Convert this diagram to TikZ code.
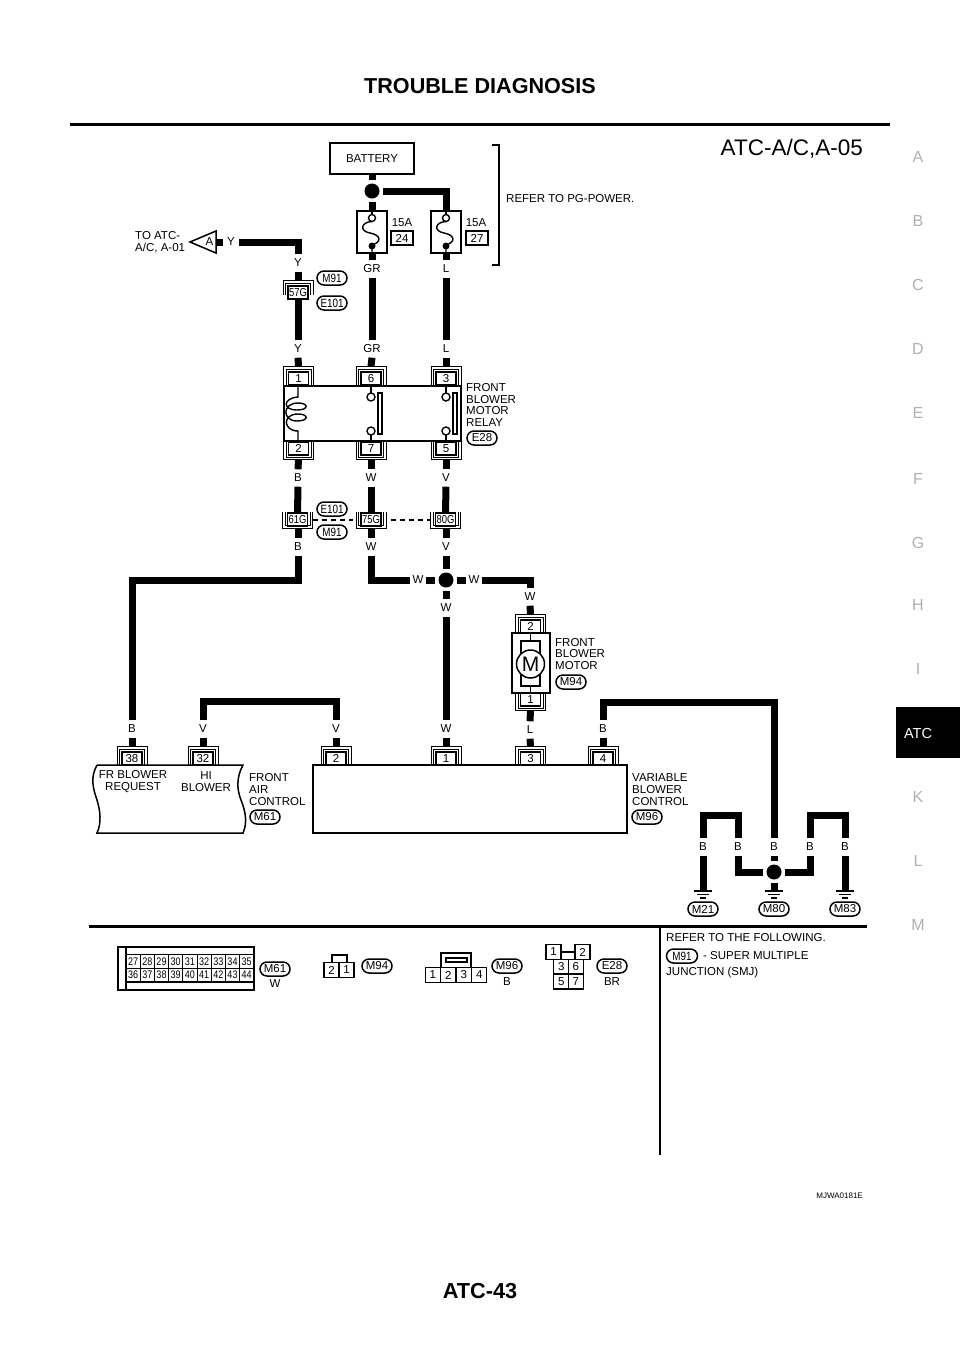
\documentclass[tikz,border=0pt]{standalone}
\usepackage{fontspec}
\setmainfont{Liberation Sans}
\newfontfamily\narrowfont[FakeStretch=0.82]{Liberation Sans}
\usepackage{xcolor}
\definecolor{Black}{RGB}{0,0,0}
\definecolor{White}{RGB}{255,255,255}
\definecolor{Grey}{RGB}{176,176,176}
\usepackage{tikz}

\tikzset{
	wire/.style={draw=Black, line width=7pt},
	thinline/.style={draw=Black, line width=1.4pt},
	dashline/.style={draw=Black, line width=2pt, dash pattern=on 5pt off 4pt},
	shell/.style={draw=Black, line width=1pt},
	txt/.style={font=\fontsize{11.5}{11.6}\selectfont, color=Black, inner sep=0pt},
	txtleft/.style={txt, anchor=west, align=left},
	lab/.style={txt, minimum width=15pt, minimum height=17pt},
	pinbox/.style={txt, draw=Black, fill=White, line width=1.1pt, minimum width=20pt, minimum height=13pt},
	smjbox/.style={pinbox, font=\narrowfont\fontsize{11.5}{11}\selectfont},
	pill/.style={txt, draw=Black, fill=White, line width=1.5pt, rounded corners=7pt, minimum width=30pt, minimum height=14pt},
	smallpill/.style={pill, font=\narrowfont\fontsize{12}{11}\selectfont},
	dot/.style={circle, fill=Black, inner sep=0pt, minimum size=15pt, outer sep=3.5pt},
	side/.style={color=Grey, font=\fontsize{16}{16}\selectfont, inner sep=0pt},
	cell/.style={txt, draw=Black, line width=1pt, minimum width=14.2pt, minimum height=13.5pt, font=\narrowfont\fontsize{11}{10}\selectfont},
	gridcell/.style={txt, draw=Black, line width=1.3pt, minimum width=15pt, minimum height=15pt}
}

% pin with the wire coming from above
\newcommand{\pintop}[4]{
	\node[pinbox] (#1) at (#2,#3) {#4};
	\draw[shell, shift={(#2,#3)}] (-15,6.5) -- (-15,-12) -- (15,-12) -- (15,6.5);
	\draw[shell, shift={(#2,#3)}] (-12.5,6.5) -- (-12.5,-9.5) -- (12.5,-9.5) -- (12.5,6.5);
	\coordinate (#1w) at ($(#2,#3)+(0,-12)$);
}
% pin with the wire leaving below
\newcommand{\pinbot}[4]{
	\node[pinbox] (#1) at (#2,#3) {#4};
	\draw[shell, shift={(#2,#3)}] (-15,-6.5) -- (-15,11) -- (15,11) -- (15,-6.5);
	\draw[shell, shift={(#2,#3)}] (-12.5,-6.5) -- (-12.5,8.5) -- (12.5,8.5) -- (12.5,-6.5);
	\coordinate (#1w) at ($(#2,#3)+(0,11)$);
}
% ground
\newcommand{\earth}[3]{
	\coordinate (#1) at (#2,#3);
	\draw[thinline, shift={(#2,#3)}] (-9,1) -- (9,1);
	\draw[thinline, shift={(#2,#3)}] (-6,4.5) -- (6,4.5);
	\draw[thinline, shift={(#2,#3)}] (-3,8) -- (3,8);
}
\usetikzlibrary{calc}

\begin{document}
\begin{tikzpicture}[x=1pt, y=-1pt]
		
		\useasboundingbox (0,0) rectangle (960,1358);
		\fill[White] (0,0) rectangle (960,1358);
		
		% Page
		\node[font=\bfseries\fontsize{21.6}{22}\selectfont, inner sep=0pt] (title) at (480,86) {TROUBLE DIAGNOSIS};
		\draw[draw=Black, line width=3pt] (70,124) -- (890,124);
		\node[font=\fontsize{22.5}{23}\selectfont, inner sep=0pt, anchor=east] (code) at (863,149) {ATC-A/C,A-05};
		\node[font=\bfseries\fontsize{21.7}{22}\selectfont, inner sep=0pt] (pageno) at (480,1291) {ATC-43};
		\node[font=\fontsize{8}{8}\selectfont, inner sep=0pt, anchor=east] (figno) at (863,1196) {MJWA0181E};
		
		% Side index
		\node[side] (sA) at (918,157) {A};
		\node[side] (sB) at (918,221) {B};
		\node[side] (sC) at (918,285) {C};
		\node[side] (sD) at (918,349) {D};
		\node[side] (sE) at (918,413) {E};
		\node[side] (sF) at (918,479) {F};
		\node[side] (sG) at (918,543) {G};
		\node[side] (sH) at (918,605) {H};
		\node[side] (sI) at (918,669) {I};
		\fill[Black] (896,707) rectangle (960,758);
		\node[side, color=White, font=\fontsize{14.5}{15}\selectfont] (sATC) at (918,733) {ATC};
		\node[side] (sK) at (918,797) {K};
		\node[side] (sL) at (918,861) {L};
		\node[side] (sM) at (918,925) {M};
		
		% Battery and fuses
		\node[txt, draw=Black, line width=1.5pt, minimum width=84pt, minimum height=31pt] (bat) at (372,158.5) {BATTERY};
		\node[dot] (dotB) at (372,191) {};
		\node[draw=Black, line width=1.5pt, minimum width=30pt, minimum height=42pt, inner sep=0pt] (fuseL) at (372,232) {};
		\node[draw=Black, line width=1.5pt, minimum width=30pt, minimum height=42pt, inner sep=0pt] (fuseR) at (446,232) {};
		
		\draw[thinline] (372,211) -- (372,215);
		\draw[thinline] (372,218) circle (3.5);
		\draw[thinline] (372,221.5) .. controls (361,222) and (359,231) .. (370,233) .. controls (381,235) and (382,242) .. (372,245) -- (372,253);
		\fill[Black] (372,246) circle (3.5);
		\draw[thinline] (446,211) -- (446,215);
		\draw[thinline] (446,218) circle (3.5);
		\draw[thinline] (446,221.5) .. controls (435,222) and (433,231) .. (444,233) .. controls (455,235) and (456,242) .. (446,245) -- (446,253);
		\fill[Black] (446,246) circle (3.5);
		
		\node[txt] (amp24) at (402,223) {15A};
		\node[txt, draw=Black, line width=1.3pt, minimum width=22pt, minimum height=14pt] (fuse24) at (402,238) {24};
		\node[txt] (amp27) at (476,223) {15A};
		\node[txt, draw=Black, line width=1.3pt, minimum width=22pt, minimum height=14pt] (fuse27) at (477,238) {27};
		
		\draw[draw=Black, line width=1.5pt] (492,145) -- (499,145) -- (499,265) -- (492,265);
		\node[txtleft] (refer) at (506,199) {REFER TO PG-POWER.};
		
		% Off page arrow
		\draw[draw=Black, line width=1.5pt] (190,242) -- (216,231) -- (216,253) -- cycle;
		\coordinate (offA) at (216,242);
		\node[txt] (letterA) at (209.5,242) {A};
		\node[txtleft] (toatc) at (135,242.5) {TO ATC-\\A/C, A-01};
		
		% Wire colours
		\node[lab] (lYa) at (231,242) {Y};
		\node[lab] (lY1) at (298,263) {Y};
		\node[lab] (lY2) at (298,349) {Y};
		\node[lab] (lGR1) at (372,269) {GR};
		\node[lab] (lGR2) at (372,349) {GR};
		\node[lab] (lL1) at (446,269) {L};
		\node[lab] (lL2) at (446,349) {L};
		\node[lab] (lB1) at (298,478) {B};
		\node[lab] (lB2) at (298,547) {B};
		\node[lab] (lW1) at (371,478) {W};
		\node[lab] (lW2) at (371,547) {W};
		\node[lab] (lV1) at (446,478) {V};
		\node[lab] (lV2) at (446,547) {V};
		\node[lab] (lWa) at (418,580) {W};
		\node[lab] (lWb) at (474,580) {W};
		\node[lab] (lWc) at (530,597) {W};
		\node[lab] (lWd) at (446,608) {W};
		\node[lab] (lB3) at (132,729) {B};
		\node[lab] (lV3) at (203,729) {V};
		\node[lab] (lV4) at (336,729) {V};
		\node[lab] (lWe) at (446,729) {W};
		\node[lab] (lL3) at (530,730) {L};
		\node[lab] (lBa) at (603,729) {B};
		\node[lab] (lBb) at (774,847) {B};
		\node[lab] (lBc) at (703,847) {B};
		\node[lab] (lBd) at (738,847) {B};
		\node[lab] (lBe) at (810,847) {B};
		\node[lab] (lBf) at (845,847) {B};
		
		% Joint connector
		\node[smjbox] (c57) at (298,292.5) {57G};
		\draw[shell] (283,295) -- (283,280) -- (313,280) -- (313,295);
		\draw[shell] (285.5,295) -- (285.5,283) -- (310.5,283) -- (310.5,295);
		\coordinate (c57w) at (298,280);
		\node[smallpill] (m91a) at (332,278) {M91};
		\node[smallpill] (e101a) at (332,303) {E101};
		
		\node[smjbox] (c61) at (297.5,519.5) {61G};
		\draw[shell] (282.5,512) -- (282.5,528) -- (312.5,528) -- (312.5,512);
		\draw[shell] (285,512) -- (285,525.5) -- (310,525.5) -- (310,512);
		\coordinate (c61w) at (298,528);
		\node[smjbox] (c75) at (371,519.5) {75G};
		\draw[shell] (356,512) -- (356,528) -- (386,528) -- (386,512);
		\draw[shell] (358.5,512) -- (358.5,525.5) -- (383.5,525.5) -- (383.5,512);
		\coordinate (c75w) at (371,528);
		\node[smjbox] (c80) at (445.5,519.5) {80G};
		\draw[shell] (430.5,512) -- (430.5,528) -- (460.5,528) -- (460.5,512);
		\draw[shell] (433,512) -- (433,525.5) -- (458,525.5) -- (458,512);
		\coordinate (c80w) at (446,528);
		\draw[dashline, shorten <=5pt, shorten >=7pt] (c61) -- (c75);
		\draw[dashline, shorten <=9pt, shorten >=5pt] (c75) -- (c80);
		\node[smallpill] (e101b) at (332,509) {E101};
		\node[smallpill] (m91b) at (332,532) {M91};
		
		% Relay
		\node[draw=Black, line width=1.5pt, minimum width=177pt, minimum height=55pt, inner sep=0pt] (relay) at (372.5,413.5) {};
		\pintop{p1}{298.5}{378.5}{1}
		\pintop{p6}{371}{378.5}{6}
		\pintop{p3}{446}{378.5}{3}
		\pinbot{p2}{298.5}{448.5}{2}
		\pinbot{p7}{371}{448.5}{7}
		\pinbot{p5}{446}{448.5}{5}
		\draw[thinline] (298,386) -- (298,397) .. controls (283,398) and (282,410) .. (297,410) .. controls (309,410) and (309,403) .. (298,403) .. controls (282,403) and (282,421) .. (297,421) .. controls (309,421) and (309,414) .. (298,414) .. controls (282,414) and (283,431) .. (298,431) -- (298,441);
		
		\draw[thinline] (371,386) -- (371,393);
		\draw[thinline] (371,397) circle (4);
		\draw[thinline] (371,431) circle (4);
		\draw[thinline] (371,435) -- (371,441);
		\draw[thinline] (378,393) rectangle (382,434);
		\draw[thinline] (446,386) -- (446,393);
		\draw[thinline] (446,397) circle (4);
		\draw[thinline] (446,431) circle (4);
		\draw[thinline] (446,435) -- (446,441);
		\draw[thinline] (453,393) rectangle (457,434);
		\node[txtleft] (relaytxt) at (466,405) {FRONT\\BLOWER\\MOTOR\\RELAY};
		\node[pill] (e28a) at (482,438) {E28};
		
		% Motor
		\node[draw=Black, line width=1.5pt, minimum width=38pt, minimum height=60pt, inner sep=0pt] (motor) at (531,663) {};
		\pintop{pm2}{530.5}{626.5}{2}
		\pinbot{pm1}{530.5}{699.5}{1}
		\draw[thinline] (530.5,633) -- (530.5,641);
		\draw[thinline] (530.5,686) -- (530.5,693);
		\draw[thinline] (521,641) rectangle (540,686);
		\node[circle, draw=Black, fill=White, line width=1.5pt, minimum size=28pt, inner sep=0pt, font=\fontsize{21}{21}\selectfont] (mot) at (530.5,664) {M};
		\node[txtleft] (motortxt) at (555,654) {FRONT\\BLOWER\\MOTOR};
		\node[pill] (m94a) at (571,682) {M94};
		
		% Control units
		\draw[draw=Black, line width=1.5pt] (97,765) -- (243,765) .. controls (236,778) and (237,790) .. (241,800) .. controls (245,810) and (248,822) .. (243,833) -- (97,833) .. controls (102,822) and (100,810) .. (97,800) .. controls (93,788) and (90,778) .. (97,765);
		\node[draw=Black, line width=1.5pt, minimum width=314pt, minimum height=68pt, inner sep=0pt] (vbc) at (470,799) {};
		\pintop{p38}{132}{758.5}{38}
		\pintop{p32}{203}{758.5}{32}
		\pintop{pc2}{336}{758.5}{2}
		\pintop{pc1}{446}{758.5}{1}
		\pintop{pc3}{530.5}{758.5}{3}
		\pintop{pc4}{603}{758.5}{4}
		\node[txt, align=center] (frtxt) at (133,781.5) {FR BLOWER\\REQUEST};
		\node[txt, align=center] (hitxt) at (206,781.5) {HI\\BLOWER};
		\node[txtleft] (airtxt) at (249,789.5) {FRONT\\AIR\\CONTROL};
		\node[pill] (m61a) at (265,817) {M61};
		\node[txtleft] (vbctxt) at (632,789.5) {VARIABLE\\BLOWER\\CONTROL};
		\node[pill] (m96a) at (647,817) {M96};
		
		% Grounds
		\node[dot] (dotG) at (774,872) {};
		\earth{gnd21}{703}{890}
		\earth{gnd80}{774}{890}
		\earth{gnd83}{845}{890}
		\node[pill] (m21) at (703,909) {M21};
		\node[pill] (m80) at (774,909) {M80};
		\node[pill] (m83) at (845,909) {M83};
		
		% Wires
		\node[dot] (dotW) at (446,580) {};
		\coordinate (kneeB) at (132,580);
		\coordinate (kneeV) at (336,701);
		\coordinate (kneeBb) at (774,702);
		\coordinate (kneeBd) at (738,815);
		\coordinate (kneeBf) at (845,815);
		\draw[wire] (bat.south) -- (dotB.north);
		\draw[wire] (dotB.south) -- (fuseL.north);
		\draw[wire] (dotB.east) -| (fuseR.north);
		\draw[wire] (fuseL.south) -- (lGR1.north);
		\draw[wire] (lGR1.south) -- (lGR2.north);
		\draw[wire] (lGR2.south) -- (p6w);
		\draw[wire] (fuseR.south) -- (lL1.north);
		\draw[wire] (lL1.south) -- (lL2.north);
		\draw[wire] (lL2.south) -- (p3w);
		\draw[wire] (offA) -- (lYa.west);
		\draw[wire] (lYa.east) -| (lY1.north);
		\draw[wire] (lY1.south) -- (c57w);
		\draw[wire] (c57.south) -- (lY2.north);
		\draw[wire] (lY2.south) -- (p1w);
		\draw[wire] (p2w) -- (lB1.north);
		\draw[wire] (lB1.south) -- (c61.north);
		\draw[wire] (c61w) -- (lB2.north);
		\draw[wire] (lB2.south) |- (kneeB) -- (lB3.north);
		\draw[wire] (lB3.south) -- (p38w);
		\draw[wire] (p7w) -- (lW1.north);
		\draw[wire] (lW1.south) -- (c75.north);
		\draw[wire] (c75w) -- (lW2.north);
		\draw[wire] (lW2.south) |- (lWa.west);
		\draw[wire] (lWa.east) -- (dotW.west);
		\draw[wire] (dotW.east) -- (lWb.west);
		\draw[wire] (lWb.east) -| (lWc.north);
		\draw[wire] (lWc.south) -- (pm2w);
		\draw[wire] (p5w) -- (lV1.north);
		\draw[wire] (lV1.south) -- (c80.north);
		\draw[wire] (c80w) -- (lV2.north);
		\draw[wire] (lV2.south) -- (dotW.north);
		\draw[wire] (dotW.south) -- (lWd.north);
		\draw[wire] (lWd.south) -- (lWe.north);
		\draw[wire] (lWe.south) -- (pc1w);
		\draw[wire] (lV3.north) |- (kneeV) -- (lV4.north);
		\draw[wire] (lV3.south) -- (p32w);
		\draw[wire] (lV4.south) -- (pc2w);
		\draw[wire] (pm1w) -- (lL3.north);
		\draw[wire] (lL3.south) -- (pc3w);
		\draw[wire] (lBa.north) |- (kneeBb) -- (lBb.north);
		\draw[wire] (lBa.south) -- (pc4w);
		\draw[wire] (lBb.south) -- (dotG.north);
		\draw[wire] (dotG.south) -- (gnd80);
		\draw[wire] (lBc.north) |- (kneeBd) -- (lBd.north);
		\draw[wire] (lBc.south) -- (gnd21);
		\draw[wire] (lBd.south) |- (dotG.west);
		\draw[wire] (dotG.east) -| (lBe.south);
		\draw[wire] (lBe.north) |- (kneeBf) -- (lBf.north);
		\draw[wire] (lBf.south) -- (gnd83);
		
		% Divider
		\draw[draw=Black, line width=2.5pt] (89,926.5) -- (867,926.5);
		\draw[draw=Black, line width=2pt] (660,928) -- (660,1155);
		
		% Connector M61
		\draw[thinline] (118,947) rectangle (254,990);
		\draw[thinline] (126,947) -- (126,990);
		\draw[thinline] (126,954.5) -- (254,954.5);
		\draw[thinline] (126,982) -- (254,982);
		\node[cell] (c27) at (133.1,961.5) {27};
		\node[cell] (c28) at (147.3,961.5) {28};
		\node[cell] (c29) at (161.5,961.5) {29};
		\node[cell] (c30) at (175.7,961.5) {30};
		\node[cell] (c31) at (189.9,961.5) {31};
		\node[cell] (c32) at (204.1,961.5) {32};
		\node[cell] (c33) at (218.3,961.5) {33};
		\node[cell] (c34) at (232.5,961.5) {34};
		\node[cell] (c35) at (246.7,961.5) {35};
		\node[cell] (c36) at (133.1,975) {36};
		\node[cell] (c37) at (147.3,975) {37};
		\node[cell] (c38) at (161.5,975) {38};
		\node[cell] (c39) at (175.7,975) {39};
		\node[cell] (c40) at (189.9,975) {40};
		\node[cell] (c41) at (204.1,975) {41};
		\node[cell] (c42) at (218.3,975) {42};
		\node[cell] (c43) at (232.5,975) {43};
		\node[cell] (c44) at (246.7,975) {44};
		\node[pill] (m61b) at (275,969) {M61};
		\node[txt] (colW) at (275,984) {W};
		
		% Connector M94
		\draw[thinline] (332,962) -- (332,955) -- (347,955) -- (347,962);
		\node[gridcell] (m94p2) at (331.5,970) {2};
		\node[gridcell] (m94p1) at (346.5,970) {1};
		\node[pill] (m94b) at (377,966) {M94};
		
		% Connector M96
		\draw[thinline] (441,968) -- (441,953) -- (471,953) -- (471,968);
		\draw[thinline] (446,958) rectangle (467,962);
		\node[gridcell] (m96p1) at (432.7,975) {1};
		\node[gridcell] (m96p2) at (448.2,975) {2};
		\node[gridcell] (m96p3) at (463.7,975) {3};
		\node[gridcell] (m96p4) at (479.2,975) {4};
		\node[pill] (m96b) at (507,966) {M96};
		\node[txt] (colB) at (507,982) {B};
		
		% Connector E28
		\draw[thinline] (561,952) -- (575,952);
		\node[gridcell] (e28p1) at (553.5,952) {1};
		\node[gridcell] (e28p2) at (582.5,952) {2};
		\node[gridcell] (e28p3) at (561.3,966.7) {3};
		\node[gridcell] (e28p6) at (575.7,966.7) {6};
		\node[gridcell] (e28p5) at (561.3,981.5) {5};
		\node[gridcell] (e28p7) at (575.7,981.5) {7};
		\node[pill] (e28b) at (612,966) {E28};
		\node[txt] (colBR) at (612,982) {BR};
		
		% Note
		\node[txtleft] (note1) at (666,938) {REFER TO THE FOLLOWING.};
		\node[smallpill, minimum width=31pt] (m91c) at (682,956) {M91};
		\node[txtleft] (note2) at (703,956) {- SUPER MULTIPLE};
		\node[txtleft] (note3) at (666,973) {JUNCTION (SMJ)};
		
	\end{tikzpicture}
\end{document}
